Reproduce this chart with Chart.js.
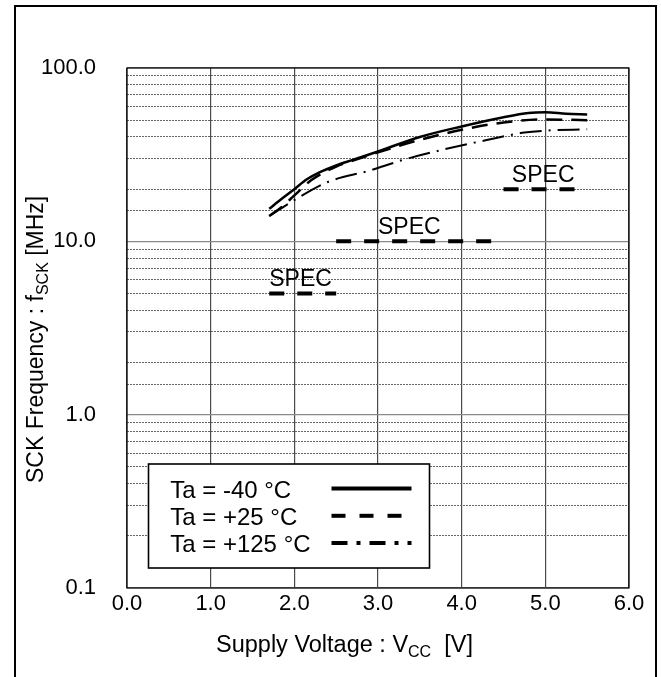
<!DOCTYPE html>
<html>
<head>
<meta charset="utf-8">
<script src="https://cdn.jsdelivr.net/npm/chart.js@4.4.1/dist/chart.umd.min.js"></script>
<style>
  html, body { margin: 0; padding: 0; background: #fff; }
</style>
</head>
<body>
<canvas id="sckChart" width="661" height="677"></canvas>
<script>
// ---- data ----
const seriesLabels = ['Ta = -40 °C', 'Ta = +25 °C', 'Ta = +125 °C'];

const vccM40 = [1.7, 1.85, 2.0, 2.15, 2.3, 2.5, 2.7, 3.0, 3.5, 4.0, 4.5, 4.8, 5.0, 5.25, 5.5];
const fM40   = [15.4, 17.6, 20.0, 22.8, 25.0, 27.4, 29.5, 33.0, 40.0, 46.0, 52.0, 55.0, 55.5, 54.5, 54.0];

const vccP25 = [1.7, 1.85, 2.0, 2.2, 2.5, 2.7, 3.0, 3.5, 4.0, 4.5, 5.0, 5.5];
const fP25   = [14.0, 15.8, 18.4, 22.5, 27.0, 29.2, 32.6, 38.5, 44.0, 48.5, 50.5, 50.0];

const vccP125 = [1.7, 2.0, 2.4, 2.9, 3.3, 3.8, 4.3, 4.75, 5.0, 5.5];
const fP125   = [14.0, 17.3, 22.0, 25.6, 29.5, 34.0, 38.4, 42.4, 43.5, 44.3];

const specFrom = [1.7, 2.5, 4.5];
const specTo   = [2.5, 4.5, 5.5];
const specFreq = [5, 10, 20];
const specLabelAt = [1.7, 3.0, 4.6];

const xTickValues = [0, 1, 2, 3, 4, 5, 6];

const FONT = "'Liberation Sans', Arial, sans-serif";

function pts(xs, ys) {
    return xs.map((x, i) => ({ x: x, y: ys[i] }));
}
function isDecade(v) {
    const lg = Math.log10(v);
    return Math.abs(lg - Math.round(lg)) < 1e-6;
}

const curveStyles = [
    { width: 2.5, dash: [], legendDash: [] },
    { width: 2.5, dash: [16, 9], legendDash: [14, 14] },
    { width: 2, dash: [22, 7, 2, 7], legendDash: [16, 9, 4, 9] }
];

const datasets = [];
[[vccM40, fM40], [vccP25, fP25], [vccP125, fP125]].forEach((s, i) => {
    datasets.push({
        label: seriesLabels[i],
        data: pts(s[0], s[1]),
        borderColor: '#000',
        borderWidth: curveStyles[i].width,
        borderDash: curveStyles[i].dash,
        legendDash: curveStyles[i].legendDash,
        pointRadius: 0,
        cubicInterpolationMode: 'monotone',
        fill: false
    });
});
specFreq.forEach((f, i) => {
    datasets.push({
        label: 'SPEC',
        isSpec: true,
        data: [{ x: specFrom[i], y: f }, { x: specTo[i], y: f }],
        borderColor: '#000',
        borderWidth: 4,
        borderDash: [15, 13],
        borderCapStyle: 'butt',
        pointRadius: 0,
        fill: false
    });
});

const decor = {
    id: 'decor',
    beforeDraw(chart) {
        const c = chart.ctx;
        c.save();
        c.fillStyle = '#fff';
        c.fillRect(0, 0, chart.width, chart.height);
        c.restore();
    },
    afterDatasetsDraw(chart) {
        const c = chart.ctx;
        const ca = chart.chartArea;
        const xs = chart.scales.x, ys = chart.scales.y;
        c.save();

        // plot frame
        c.strokeStyle = '#000';
        c.lineWidth = 1.2;
        c.strokeRect(ca.left, ca.top, ca.right - ca.left, ca.bottom - ca.top);

        // SPEC labels
        c.fillStyle = '#000';
        c.font = '23px ' + FONT;
        c.textAlign = 'left';
        c.textBaseline = 'alphabetic';
        specFreq.forEach((f, i) => {
            c.fillText('SPEC', xs.getPixelForValue(specLabelAt[i]), ys.getPixelForValue(f) - 7.5);
        });

        // legend
        const bx = ca.left + 21.5, by = ca.bottom - 124;
        const bw = 281, bh = 104;
        c.fillStyle = '#fff';
        c.fillRect(bx, by, bw, bh);
        c.lineWidth = 1.6;
        c.strokeStyle = '#000';
        c.strokeRect(bx, by, bw, bh);
        c.fillStyle = '#000';
        c.font = '24px ' + FONT;
        for (let i = 0; i < 3; i++) {
            const ds = chart.data.datasets[i];
            const base = by + 33.5 + i * 27.3;
            c.fillText(ds.label, bx + 21.7, base);
            c.beginPath();
            c.lineWidth = 4;
            c.lineCap = 'butt';
            c.setLineDash(ds.legendDash);
            c.moveTo(bx + 183, base - 9);
            c.lineTo(bx + 263, base - 9);
            c.stroke();
            c.setLineDash([]);
        }

        // x title with subscript
        let x = ca.left + 89;
        const yb = ca.bottom + 64;
        c.font = '23.5px ' + FONT;
        c.fillText('Supply Voltage : V', x, yb);
        x += c.measureText('Supply Voltage : V').width;
        c.font = '16px ' + FONT;
        c.fillText('CC', x, yb + 5);
        x += c.measureText('CC').width;
        c.font = '23.5px ' + FONT;
        c.fillText('  [V]', x, yb);

        // y title, rotated
        c.translate(43, ca.bottom - 105);
        c.rotate(-Math.PI / 2);
        let t = 0;
        c.font = '23px ' + FONT;
        c.fillText('SCK Frequency : f', t, 0);
        t += c.measureText('SCK Frequency : f').width;
        c.font = '16px ' + FONT;
        c.fillText('SCK', t, 5);
        t += c.measureText('SCK').width;
        c.font = '23px ' + FONT;
        c.fillText(' [MHz]', t, 0);
        c.restore();

        // outer frame (open at the bottom of the page)
        c.save();
        c.strokeStyle = '#000';
        c.lineWidth = 2;
        c.beginPath();
        c.moveTo(15, chart.height + 5);
        c.lineTo(15, 6);
        c.lineTo(656, 6);
        c.lineTo(656, chart.height + 5);
        c.stroke();
        c.restore();
    }
};

const cfg = {
    type: 'line',
    data: { datasets: datasets },
    options: {
        responsive: false,
        devicePixelRatio: 1,
        animation: false,
        layout: { padding: { top: 68, right: 32, left: 0, bottom: 0 } },
        plugins: {
            legend: { display: false },
            tooltip: { enabled: false }
        },
        scales: {
            x: {
                type: 'linear',
                min: 0,
                max: 6,
                afterFit: s => { s.height = 89; },
                afterBuildTicks: s => { s.ticks = xTickValues.map(v => ({ value: v })); },
                ticks: {
                    color: '#000',
                    font: { family: FONT, size: 22 },
                    padding: 3,
                    maxRotation: 0,
                    autoSkip: false,
                    callback: v => Number(v).toFixed(1)
                },
                grid: { color: '#4a4a4a', lineWidth: 1.2, drawTicks: false },
                border: { display: false }
            },
            y: {
                type: 'logarithmic',
                min: 0.1,
                max: 100,
                afterFit: s => { s.width = 127; },
                ticks: {
                    color: '#000',
                    font: { family: FONT, size: 22 },
                    padding: 31,
                    autoSkip: false,
                    callback: v => isDecade(v) ? Number(v).toFixed(1) : ''
                },
                grid: {
                    drawTicks: false,
                    color: ctx => (ctx.tick && isDecade(ctx.tick.value)) ? '#8a8a8a' : '#666',
                    lineWidth: ctx => (ctx.tick && isDecade(ctx.tick.value)) ? 1.2 : 1
                },
                border: {
                    display: false,
                    dash: ctx => (ctx.tick && isDecade(ctx.tick.value)) ? [] : [2, 1]
                }
            }
        }
    },
    plugins: [decor]
};

new Chart(document.getElementById('sckChart').getContext('2d'), cfg);
</script>
</body>
</html>
